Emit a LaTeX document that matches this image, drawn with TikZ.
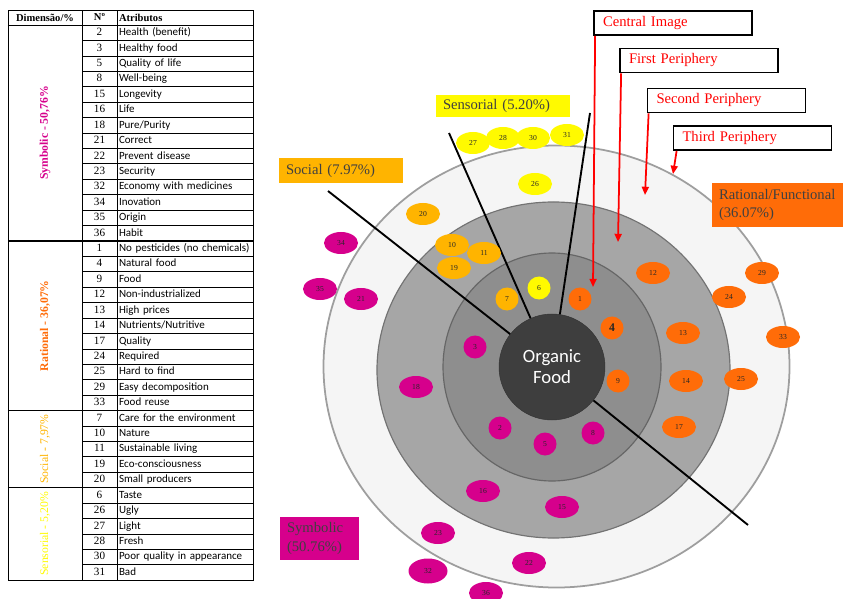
\documentclass[tikz,border=0pt]{standalone}
\usepackage{fontspec}
\setmainfont{Liberation Serif}
\newfontfamily\calibri{Carlito}
\usetikzlibrary{shapes.geometric,positioning,arrows.meta}
\definecolor{symbmag}{RGB}{214,0,140}
\definecolor{ratorange}{RGB}{255,108,8}
\definecolor{socamber}{RGB}{255,180,0}
\definecolor{sensyellow}{RGB}{255,250,0}
\definecolor{coregrey}{RGB}{62,62,62}
\definecolor{innergrey}{RGB}{142,142,142}
\definecolor{midgrey}{RGB}{166,166,166}
\definecolor{outergrey}{RGB}{245,245,245}

\begin{document}
\begin{tikzpicture}[x=0.03cm, y=-0.03cm,
    cell/.style ={rectangle, draw, line width=0.5pt, outer sep=0pt, inner ysep=0pt},
    headcell/.style ={cell, minimum height=0.45cm, font=\fontsize{9}{10}\selectfont\bfseries},
    dimcell/.style ={cell, minimum width=2.22cm, font=\fontsize{10}{10}\selectfont\bfseries},
    numcell/.style ={cell, minimum width=1.05cm, minimum height=0.4626cm,
      text height=7pt, text depth=2pt, font=\fontsize{9.5}{10}\selectfont},
    attcell/.style ={cell, text width=3.96cm, inner xsep=0.06cm, align=left,
      minimum height=0.4626cm, text height=7pt, text depth=2pt,
      font=\calibri\fontsize{9.4}{10}\selectfont},
    ringdisc/.style ={ellipse, inner sep=0pt},
    spot/.style ={ellipse, inner sep=0pt, minimum width=1.02cm, minimum height=0.66cm,
      text=black!85, font=\fontsize{6.5}{7}\selectfont},
    smallspot/.style ={minimum width=0.69cm, minimum height=0.69cm},
    symbolic/.style ={spot, fill=symbmag},
    rational/.style ={spot, fill=ratorange},
    social/.style ={spot, fill=socamber},
    sensorial/.style ={spot, fill=sensyellow},
    divider/.style ={line width=1.6pt},
    periphery/.style ={rectangle, draw, line width=1.5pt, fill=white, text=red,
      text width=4.2cm, inner xsep=0.27cm, minimum height=0.72cm, align=left,
      font=\fontsize{12.5}{14}\selectfont},
    redarrow/.style ={draw=red, line width=1.5pt, -{Triangle[length=7pt,width=6pt]}},
    dimbox/.style ={rectangle, inner xsep=0.21cm, align=left, text=black!75,
      font=\fontsize{12.5}{16}\selectfont}]
   \useasboundingbox (0,0) rectangle (843,599);

   % table
   \node[headcell, minimum width=2.22cm] (H1) at (45,17.5) {Dimensão/\%};
   \node[headcell, minimum width=1.05cm, right=0pt of H1] (H2) {Nº};
   \node[headcell, text width=3.96cm, inner xsep=0.06cm, align=left, right=0pt of H2] (H3) {Atributos};

   \node[dimcell, minimum height=6.4764cm, below=0pt of H1, text=symbmag] (D1) {\rotatebox{90}{Symbolic - 50,76\%}};
   \node[numcell, anchor=north west] (N2) at (D1.north east) {2};
   \node[attcell, right=0pt of N2] (A2) {Health (benefit)};
   \node[numcell, below=0pt of N2] (N3) {3};   \node[attcell, right=0pt of N3] (A3) {Healthy food};
   \node[numcell, below=0pt of N3] (N5) {5};   \node[attcell, right=0pt of N5] (A5) {Quality of life};
   \node[numcell, below=0pt of N5] (N8) {8};   \node[attcell, right=0pt of N8] (A8) {Well-being};
   \node[numcell, below=0pt of N8] (N15) {15}; \node[attcell, right=0pt of N15] (A15) {Longevity};
   \node[numcell, below=0pt of N15] (N16) {16}; \node[attcell, right=0pt of N16] (A16) {Life};
   \node[numcell, below=0pt of N16] (N18) {18}; \node[attcell, right=0pt of N18] (A18) {Pure/Purity};
   \node[numcell, below=0pt of N18] (N21) {21}; \node[attcell, right=0pt of N21] (A21) {Correct};
   \node[numcell, below=0pt of N21] (N22) {22}; \node[attcell, right=0pt of N22] (A22) {Prevent disease};
   \node[numcell, below=0pt of N22] (N23) {23}; \node[attcell, right=0pt of N23] (A23) {Security};
   \node[numcell, below=0pt of N23] (N32) {32}; \node[attcell, right=0pt of N32] (A32) {Economy with medicines};
   \node[numcell, below=0pt of N32] (N34) {34}; \node[attcell, right=0pt of N34] (A34) {Inovation};
   \node[numcell, below=0pt of N34] (N35) {35}; \node[attcell, right=0pt of N35] (A35) {Origin};
   \node[numcell, below=0pt of N35] (N36) {36}; \node[attcell, right=0pt of N36] (A36) {Habit};

   \node[dimcell, minimum height=5.0886cm, below=0pt of D1, text=ratorange] (D2) {\rotatebox{90}{Rational - 36,07\%}};
   \node[numcell, anchor=north west] (N1) at (D2.north east) {1};
   \node[attcell, right=0pt of N1] (A1) {No pesticides (no chemicals)};
   \node[numcell, below=0pt of N1] (N4) {4};   \node[attcell, right=0pt of N4] (A4) {Natural food};
   \node[numcell, below=0pt of N4] (N9) {9};   \node[attcell, right=0pt of N9] (A9) {Food};
   \node[numcell, below=0pt of N9] (N12) {12};  \node[attcell, right=0pt of N12] (A12) {Non-industrialized};
   \node[numcell, below=0pt of N12] (N13) {13}; \node[attcell, right=0pt of N13] (A13) {High prices};
   \node[numcell, below=0pt of N13] (N14) {14}; \node[attcell, right=0pt of N14] (A14) {Nutrients/Nutritive};
   \node[numcell, below=0pt of N14] (N17) {17}; \node[attcell, right=0pt of N17] (A17) {Quality};
   \node[numcell, below=0pt of N17] (N24) {24}; \node[attcell, right=0pt of N24] (A24) {Required};
   \node[numcell, below=0pt of N24] (N25) {25}; \node[attcell, right=0pt of N25] (A25) {Hard to find};
   \node[numcell, below=0pt of N25] (N29) {29}; \node[attcell, right=0pt of N29] (A29) {Easy decomposition};
   \node[numcell, below=0pt of N29] (N33) {33}; \node[attcell, right=0pt of N33] (A33) {Food reuse};

   \node[dimcell, minimum height=2.313cm, below=0pt of D2, text=socamber, font=\fontsize{10}{10}\selectfont] (D3) {\rotatebox{90}{Social - 7,97\%}};
   \node[numcell, anchor=north west] (N7) at (D3.north east) {7};
   \node[attcell, right=0pt of N7] (A7) {Care for the environment};
   \node[numcell, below=0pt of N7] (N10) {10};  \node[attcell, right=0pt of N10] (A10) {Nature};
   \node[numcell, below=0pt of N10] (N11) {11}; \node[attcell, right=0pt of N11] (A11) {Sustainable living};
   \node[numcell, below=0pt of N11] (N19) {19}; \node[attcell, right=0pt of N19] (A19) {Eco-consciousness};
   \node[numcell, below=0pt of N19] (N20) {20}; \node[attcell, right=0pt of N20] (A20) {Small producers};

   \node[dimcell, minimum height=2.7756cm, below=0pt of D3, text=sensyellow, font=\fontsize{10}{10}\selectfont] (D4) {\rotatebox{90}{Sensorial - 5,20\%}};
   \node[numcell, anchor=north west] (N6) at (D4.north east) {6};
   \node[attcell, right=0pt of N6] (A6) {Taste};
   \node[numcell, below=0pt of N6] (N26) {26};  \node[attcell, right=0pt of N26] (A26) {Ugly};
   \node[numcell, below=0pt of N26] (N27) {27}; \node[attcell, right=0pt of N27] (A27) {Light};
   \node[numcell, below=0pt of N27] (N28) {28}; \node[attcell, right=0pt of N28] (A28) {Fresh};
   \node[numcell, below=0pt of N28] (N30) {30}; \node[attcell, right=0pt of N30] (A30) {Poor quality in appearance};
   \node[numcell, below=0pt of N30] (N31) {31}; \node[attcell, right=0pt of N31] (A31) {Bad};

   \draw[thick] (H1.north west) rectangle (A31.south east);
   \draw[thick] (H1.south west) -- (H3.south east);
   \draw[thick] (D2.north west) -- (A1.north east);
   \draw[thick] (D3.north west) -- (A7.north east);
   \draw[thick] (D4.north west) -- (A6.north east);

   % rings
   \node[ringdisc, fill=outergrey, draw=black!38, line width=1.5pt, minimum width=13.98cm, minimum height=13.26cm] (R3) at (556.5,366.5) {};
   \node[ringdisc, fill=midgrey, draw=black!55, line width=1pt, minimum width=10.59cm, minimum height=10.08cm] (R2) at (553.5,370) {};
   \node[ringdisc, fill=innergrey, draw=black!60, line width=1pt, minimum width=6.54cm, minimum height=6.84cm] (R1) at (552,367) {};
   \node[circle, fill=coregrey, draw=black!80, minimum size=3.18cm, text=white, align=center,
     font=\calibri\fontsize{16}{18}\selectfont] (OF) at (552,367) {Organic\\Food};

   \coordinate (socend) at (328,191);
   \coordinate (sensleft) at (449,133);
   \coordinate (sensright) at (590,113);
   \coordinate (symend) at (748,525);
   \draw[divider] (OF) -- (socend);
   \draw[divider] (OF) -- (sensleft);
   \draw[divider] (OF) -- (sensright);
   \draw[divider] (OF) -- (symend);

   % attributes
   \node[sensorial] (E27) at (473,143) {27};
   \node[sensorial] (E28) at (503,138) {28};
   \node[sensorial] (E30) at (533,138) {30};
   \node[sensorial] (E31) at (567,135) {31};
   \node[sensorial] (E26) at (535,184) {26};
   \node[sensorial, smallspot] (E6) at (539,288) {6};

   \node[social] (E20) at (423,214) {20};
   \node[social] (E10) at (452,245) {10};
   \node[social] (E19) at (454,268) {19};
   \node[social] (E11) at (484,253) {11};
   \node[social, smallspot] (E7) at (507,299) {7};

   \node[rational, smallspot] (E1) at (580,299) {1};
   \node[rational, smallspot, font=\fontsize{10}{10}\selectfont\bfseries] (E4) at (612,328) {4};
   \node[rational, smallspot] (E9) at (618,381) {9};
   \node[rational] (E12) at (653,273) {12};
   \node[rational] (E13) at (683,333) {13};
   \node[rational] (E14) at (686,381) {14};
   \node[rational] (E17) at (679,427) {17};
   \node[rational] (E24) at (729,297) {24};
   \node[rational] (E25) at (741,379) {25};
   \node[rational] (E29) at (762,273) {29};
   \node[rational] (E33) at (783,337) {33};

   \node[symbolic] (E34) at (341,243) {34};
   \node[symbolic] (E35) at (320,289) {35};
   \node[symbolic] (E21) at (361,299) {21};
   \node[symbolic, smallspot] (E3) at (475,347) {3};
   \node[symbolic] (E18) at (416,387) {18};
   \node[symbolic, smallspot] (E2) at (500,428) {2};
   \node[symbolic, smallspot] (E5) at (545,444) {5};
   \node[symbolic, smallspot] (E8) at (593,433) {8};
   \node[symbolic] (E16) at (483,491) {16};
   \node[symbolic] (E15) at (562,507) {15};
   \node[symbolic] (E23) at (438,533) {23};
   \node[symbolic] (E22) at (529,563) {22};
   \node[symbolic, minimum width=1.17cm, minimum height=0.75cm] (E32) at (428,571) {32};
   \node[symbolic] (E36) at (486,593) {36};

   % dimension labels
   \node[dimbox, fill=sensyellow, text width=3.6cm, minimum height=0.66cm] (SE) at (503,106) {Sensorial (5.20\%)};
   \node[dimbox, fill=socamber, text width=3.3cm, minimum height=0.75cm] (SO) at (341,170.5) {Social (7.97\%)};
   \node[dimbox, fill=ratorange, text width=3.51cm, minimum height=1.32cm] (RF) at (777.5,205) {Rational/Functional\\(36.07\%)};
   \node[dimbox, fill=symbmag, text width=1.95cm, minimum height=1.29cm] (SY) at (319.5,538.5) {Symbolic\\(50.76\%)};

   % peripheries
   \node[periphery] (CI) at (673,23) {Central Image};
   \node[periphery] (FP) at (699,60.5) {First Periphery};
   \node[periphery] (SP) at (726.5,100.5) {Second Periphery};
   \node[periphery] (TP) at (752.5,138) {Third Periphery};
   \coordinate (ci) at (593,287);
   \coordinate (fp) at (618,242);
   \coordinate (sp) at (645,195);
   \coordinate (tp) at (673,174);
   \draw[redarrow] ([xshift=0.06cm]CI.south west) -- (ci);
   \draw[redarrow] ([xshift=0.06cm]FP.south west) -- (fp);
   \draw[redarrow] ([xshift=0.06cm]SP.south west) -- (sp);
   \draw[redarrow] ([xshift=0.12cm]TP.south west) -- (tp);
\end{tikzpicture}
\end{document}
